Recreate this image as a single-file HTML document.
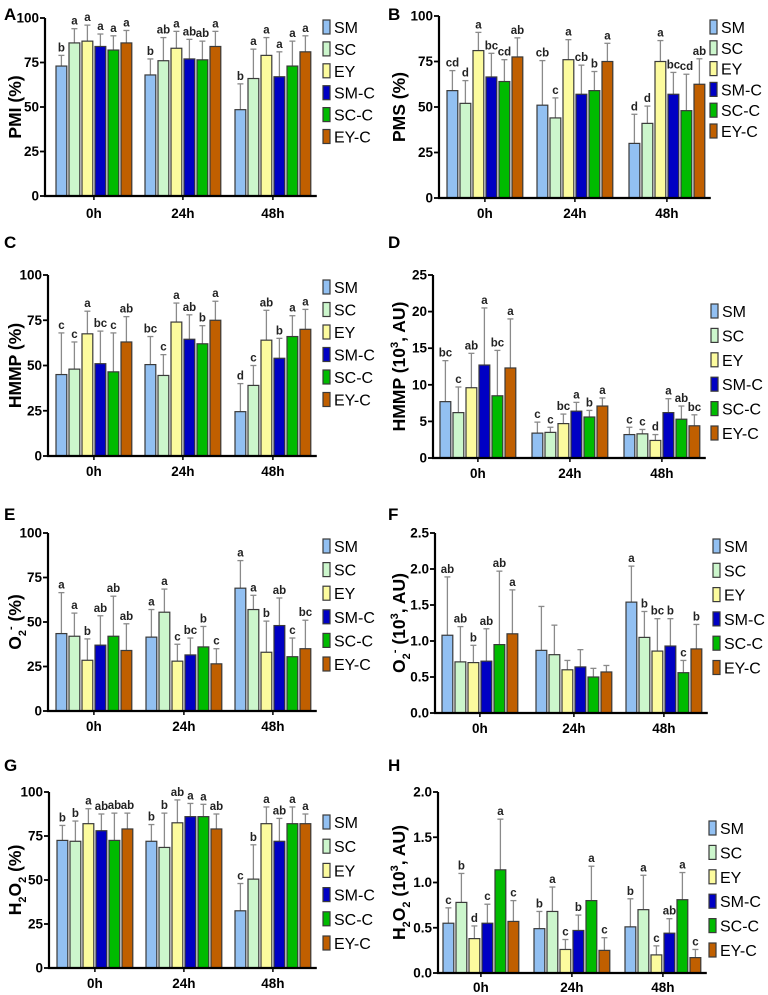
<!DOCTYPE html>
<html><head><meta charset="utf-8">
<style>
html,body{margin:0;padding:0;background:#fff;}
svg{display:block;font-family:"Liberation Sans",Arial,sans-serif;}
</style></head>
<body>
<svg id="fig" width="768" height="995" viewBox="0 0 768 995"></svg>
<script>
const categories = ["0h","24h","48h"];
const seriesNames = ["SM","SC","EY","SM-C","SC-C","EY-C"];
const seriesColors = ["#92c0f2","#ccf6cc","#fcfb9e","#0000c4","#00bb00","#c05f00"];

// Panel A PMI
const pmiMeans = [[73,86,87,84,82,86],[68,76,83,77,76.5,84],[48.5,66,79,67,73,81]];
const pmiErr   = [[79,94,96,91,90,93],[77,89,92.5,88,87,92.5],[63,82.5,89,81,87,90]];
const pmiSig   = [["b","a","a","a","a","a"],["b","ab","a","ab","ab","a"],["b","a","a","a","a","a"]];
// Panel B PMS
const pmsMeans = [[59,52,81,66.5,64,77.5],[51,44,76,57,59,75],[30,41,75,57,48,62.5]];
const pmsErr   = [[70,64.5,91,79.5,76,88],[75.5,55,87,73,69.5,85],[46,50.5,86.5,69,68,76.5]];
const pmsSig   = [["cd","d","a","bc","cd","ab"],["cb","c","a","cb","b","a"],["d","d","a","bc","cd","ab"]];
// Panel C HMMP %
const hmmpMeans = [[45,48,67.5,51,46.5,63],[50.5,44.5,74,64.5,62,75],[24.5,39,64,54,66,70]];
const hmmpErr   = [[68,63,80,69,68,77],[66,56,84.5,78,72,85.5],[40,50,80.5,65,77.5,81]];
const hmmpSig   = [["c","c","a","bc","c","ab"],["bc","c","a","ab","b","a"],["d","c","ab","b","a","a"]];
// Panel D HMMP AU
const hmmpAuMeans = [[7.7,6.2,9.6,12.7,8.5,12.3],[3.4,3.5,4.7,6.4,5.6,7.1],[3.2,3.3,2.4,6.2,5.3,4.4]];
const hmmpAuErr   = [[13.3,9.7,14.3,20.5,14.7,19],[4.9,4.2,6,7.6,6.5,8.2],[4.2,3.9,3.2,8.1,7.1,5.9]];
const hmmpAuSig   = [["bc","c","ab","a","bc","a"],["c","c","bc","a","b","a"],["c","c","d","a","ab","bc"]];
// Panel E O2- %
const o2Means = [[43.5,42,28.5,37,42,34],[41.5,55.5,28,31.5,36,26.5],[69,57,33,48,30.5,35]];
const o2Err   = [[66.5,55,40.5,53.5,64.5,49],[57,68.5,37.5,41,47.5,35],[84.5,65,50.5,63.5,41,51]];
const o2Sig   = [["a","a","b","ab","ab","ab"],["a","a","c","bc","b","c"],["a","a","b","ab","c","bc"]];
// Panel F O2- AU
const o2AuMeans = [[1.08,0.71,0.70,0.72,0.95,1.10],[0.87,0.81,0.60,0.64,0.50,0.57],[1.54,1.05,0.86,0.93,0.56,0.89]];
const o2AuErr   = [[1.89,1.20,0.94,1.17,1.97,1.71],[1.48,1.22,0.73,0.88,0.62,0.66],[2.04,1.41,1.31,1.31,0.73,1.23]];
const o2AuSig   = [["ab","ab","b","ab","ab","a"],["","","","","",""],["a","b","bc","b","c","b"]];
// Panel G H2O2 %
const h2Means = [[72.5,72,82,78,72.5,79],[72,68.5,82.5,86,86,79],[32.5,50.5,82,72,82,82]];
const h2Err   = [[81,83.5,90.5,87.5,88,88],[81.5,88,95.5,93.5,93,87.5],[48,70,91.5,85,91.5,87.5]];
const h2Sig   = [["b","b","a","ab","ab","ab"],["b","b","ab","a","a","ab"],["c","b","a","ab","a","a"]];
// Panel H H2O2 AU
const h2AuMeans = [[0.55,0.78,0.38,0.55,1.14,0.57],[0.49,0.68,0.26,0.47,0.80,0.25],[0.51,0.70,0.20,0.44,0.81,0.17]];
const h2AuErr   = [[0.72,1.10,0.52,0.76,1.70,0.80],[0.68,0.95,0.37,0.64,1.18,0.39],[0.82,1.08,0.30,0.60,1.11,0.26]];
const h2AuSig   = [["c","b","d","c","a","c"],["b","a","c","b","a","c"],["b","a","c","ab","a","c"]];

const NS="http://www.w3.org/2000/svg";
const svg=document.getElementById('fig');
function mk(tag,attrs,parent,text){const e=document.createElementNS(NS,tag);for(const k in attrs)e.setAttribute(k,attrs[k]);if(text!==undefined)e.textContent=text;(parent||svg).appendChild(e);return e;}

const panels=[
 {id:"a",letter:"A",lx:4,ly:20,ax:45,top:18,bot:196,ymax:100,step:25,dec:0,gs:[56,145,235],legx:323,legy:27,legdy:21.9,xly:218,title:[["PMI (%)"]],m:pmiMeans,e:pmiErr,s:pmiSig},
 {id:"b",letter:"B",lx:388,ly:20,ax:439,top:16,bot:198,ymax:100,step:25,dec:0,gs:[447,537,629],legx:710,legy:27,legdy:20.8,xly:218,title:[["PMS (%)"]],m:pmsMeans,e:pmsErr,s:pmsSig},
 {id:"c",letter:"C",lx:4,ly:248,ax:48,top:275,bot:456,ymax:100,step:25,dec:0,gs:[56,145,235],legx:323,legy:287,legdy:22.5,xly:476,title:[["HMMP (%)"]],m:hmmpMeans,e:hmmpErr,s:hmmpSig},
 {id:"d",letter:"D",lx:388,ly:248,ax:433,top:275,bot:458,ymax:25,step:5,dec:0,gs:[440,532,624],legx:711,legy:311,legdy:24.4,xly:478,title:[["HMMP (10"],["3","sup"],[", AU)"]],m:hmmpAuMeans,e:hmmpAuErr,s:hmmpAuSig},
 {id:"e",letter:"E",lx:4,ly:520,ax:48,top:533,bot:711,ymax:100,step:25,dec:0,gs:[56,146,235],legx:323,legy:546,legdy:23.6,xly:731,title:[["O"],["2","sub"],["-","sup"],[" (%)"]],m:o2Means,e:o2Err,s:o2Sig},
 {id:"f",letter:"F",lx:388,ly:520,ax:435,top:533,bot:713,ymax:2.5,step:0.5,dec:1,gs:[442,536,626],legx:713,legy:546,legdy:24.3,xly:733,title:[["O"],["2","sub"],["-","sup"],[" (10"],["3","sup"],[", AU)"]],m:o2AuMeans,e:o2AuErr,s:o2AuSig},
 {id:"g",letter:"G",lx:4,ly:771,ax:49,top:792,bot:968,ymax:100,step:25,dec:0,gs:[57,146,235],legx:323,legy:822,legdy:24.2,xly:988,title:[["H"],["2","sub"],["O"],["2","sub"],[" (%)"]],m:h2Means,e:h2Err,s:h2Sig},
 {id:"h",letter:"H",lx:388,ly:771,ax:438,top:792,bot:973,ymax:2.0,step:0.5,dec:1,gs:[443,534,625],legx:709,legy:828,legdy:24.4,xly:992,title:[["H"],["2","sub"],["O"],["2","sub"],[" (10"],["3","sup"],[", AU)"]],m:h2AuMeans,e:h2AuErr,s:h2AuSig}
];

const BW=10.8, PITCH=13;
panels.forEach(p=>{
  const g=mk('g',{});
  
  
  const y=v=>p.bot-(v/p.ymax)*(p.bot-p.top);
  const xb=(gi,si)=>p.gs[gi]+si*PITCH;
  const lab=mk('text',{x:p.lx,y:p.ly,'font-size':17,'font-weight':'bold'},g,p.letter);
  
  
  const cy=(p.top+p.bot)/2;
  const yt=mk('text',{x:0,y:0,'font-size':17.5,'font-weight':'bold','text-anchor':'middle',transform:`translate(${p.lx+17},${cy}) rotate(-90)`},g);
  
  
  let shift=0;
  p.title.forEach(([t,k])=>{
    const a={};
    let dy=0;
    if(k==='sub'){dy=5;a['font-size']=11;}
    if(k==='sup'){dy=-7;a['font-size']=11;}
    a.dy=dy-shift; shift=dy;
    mk('tspan',a,yt,t);
  });
  const xEnd=p.gs[2]+5*PITCH+BW+6;
  for(let gi=0;gi<3;gi++){
    for(let si=0;si<6;si++){
      const v=p.m[gi][si], ev=p.e[gi][si];
      const x=xb(gi,si), cx=x+BW/2;
      const eb=mk('g',{},g);
      
      
      mk('line',{x1:cx,x2:cx,y1:y(v),y2:y(ev),stroke:'#8a8a8a','stroke-width':1.3},eb);
      mk('line',{x1:cx-3,x2:cx+3,y1:y(ev),y2:y(ev),stroke:'#8a8a8a','stroke-width':1.3},eb);
      const r=mk('rect',{x:x,y:y(v),width:BW,height:p.bot-y(v),fill:seriesColors[si],stroke:'#3a3a3a','stroke-width':1.2},g);
      
      
      if(p.s[gi][si]){
        const t=mk('text',{x:cx,y:y(ev)-4,'font-size':11.5,'font-weight':'bold','text-anchor':'middle',fill:'#222'},g,p.s[gi][si]);
        
        
      }
    }
    const gc=p.gs[gi]+(5*PITCH+BW)/2;
    mk('line',{x1:gc,x2:gc,y1:p.bot,y2:p.bot+4,stroke:'#000','stroke-width':1.5},g);
    const xl=mk('text',{x:gc,y:p.xly,'font-size':13.5,'font-weight':'bold','text-anchor':'middle'},g,categories[gi]);
    
    
  }
  const ya=mk('line',{x1:p.ax,x2:p.ax,y1:p.top,y2:p.bot+1,stroke:'#000','stroke-width':2.2},g);
  
  
  const xa=mk('line',{x1:p.ax-1,x2:xEnd,y1:p.bot,y2:p.bot,stroke:'#000','stroke-width':2.2},g);
  
  
  const n=Math.round(p.ymax/p.step);
  for(let i=0;i<=n;i++){
    const v=i*p.step, yy=y(v);
    mk('line',{x1:p.ax-5,x2:p.ax,y1:yy,y2:yy,stroke:'#000','stroke-width':1.8},g);
    const t=mk('text',{x:p.ax-6,y:yy+4.5,'font-size':13.5,'font-weight':'bold','text-anchor':'end'},g,v.toFixed(p.dec));
    
    
  }
  seriesNames.forEach((nm,si)=>{
    const ly=p.legy+si*p.legdy;
    const le=mk('g',{},g);
    
    
    mk('rect',{x:p.legx,y:ly-7,width:7,height:14,fill:seriesColors[si],stroke:'#3a3a3a','stroke-width':1.2},le);
    mk('text',{x:p.legx+11,y:ly+6,'font-size':16},le,nm);
  });
});
</script>
</body></html>
